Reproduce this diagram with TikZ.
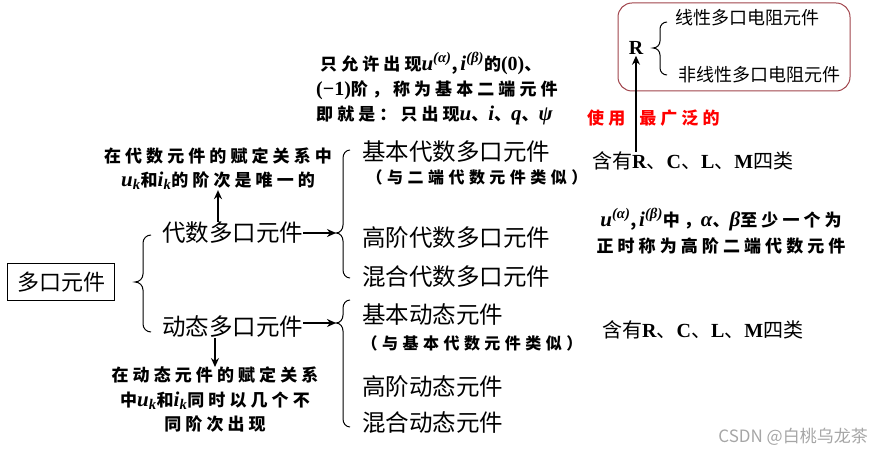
\documentclass[tikz,border=0pt]{standalone}
\usepackage{fontspec}
\setmainfont{Liberation Serif}
\newfontfamily\cjk{Noto Sans CJK SC}
\newfontfamily\cjkwide[LetterSpace=24]{Noto Sans CJK SC}
\newfontfamily\cjkwider[LetterSpace=28]{Noto Sans CJK SC}
\usepackage{xcolor}
\definecolor{FrameRed}{HTML}{A0434B}
\definecolor{NoteRed}{HTML}{FF0000}
\usepackage{tikz}
\usetikzlibrary{arrows.meta,positioning}
\newcommand{\Lt}[1]{{\rmfamily\bfseries #1}}
\newcommand{\bi}[1]{{\rmfamily\bfseries\itshape\fontsize{21}{24}\selectfont #1}}
\newcommand{\bu}[1]{{\rmfamily\bfseries\fontsize{20}{24}\selectfont #1}}

\begin{document}
\begin{tikzpicture}[x=1pt,y=1pt,
  item/.style={anchor=west,inner sep=0pt,font=\cjk\fontsize{23.5}{28}\selectfont},
  kind/.style={anchor=west,inner sep=0pt,font=\cjk\fontsize{20}{24}\selectfont},
  rtext/.style={anchor=west,inner sep=0pt,font=\cjk\fontsize{18}{22}\selectfont},
  note/.style={align=center,inner sep=0pt,font=\cjkwide\bfseries\fontsize{17}{25}\selectfont},
  sub/.style={inner sep=0pt,font=\cjkwider\bfseries\fontsize{16}{18}\selectfont},
  arr/.style={-{Stealth[length=9pt,width=8pt]},line width=2.5pt},
  brc/.style={line width=1pt}
]
  \useasboundingbox (0,0) rectangle (883,-454);

  % root and the two kinds
  \node[draw,line width=0.8pt,minimum width=107pt,minimum height=37pt,inner sep=0pt,
        font=\cjk\fontsize{22}{26}\selectfont] (multi) at (61,-282) {多口元件};
  \node[item] (alg) at (162,-233) {代数多口元件};
  \node[item] (dyn) at (162,-327) {动态多口元件};
  \draw[brc] (151,-235) to[out=180,in=90] (143,-243) -- (143,-274) to[out=-90,in=0] (135,-282)
             to[out=0,in=90] (143,-290) -- (143,-324) to[out=-90,in=180] (151,-332);

  % algebraic branch
  \coordinate (tipA) at (336,-233);
  \draw[brc] (350,-150) to[out=180,in=90] (343,-158) -- (343,-225) to[out=-90,in=0] (tipA)
             to[out=0,in=90] (343,-241) -- (343,-270) to[out=-90,in=180] (350,-278);
  \draw[arr] (alg.east) -- (tipA);
  \node[item] (algbas) at (362,-152) {基本代数多口元件};
  \node[sub] (algbasnote) at (477,-177) {（与二端代数元件类似）};
  \node[item] (alghi) at (362,-238) {高阶代数多口元件};
  \node[item] (algmix) at (362,-277) {混合代数多口元件};

  % dynamic branch
  \coordinate (tipD) at (336,-323);
  \draw[brc] (350,-300) to[out=180,in=90] (343,-308) -- (343,-315) to[out=-90,in=0] (tipD)
             to[out=0,in=90] (343,-331) -- (343,-419) to[out=-90,in=180] (350,-427);
  \draw[arr] (dyn.east |- tipD) -- (tipD);
  \node[item] (dynbas) at (362,-315) {基本动态元件};
  \node[sub] (dynbasnote) at (472,-343) {（与基本代数元件类似）};
  \node[item] (dynhi) at (362,-387) {高阶动态元件};
  \node[item] (dynmix) at (362,-423) {混合动态元件};

  % element types
  \node[kind] (kindA) at (592,-161) {含有\Lt{R}、\Lt{C}、\Lt{L}、\Lt{M}四类};
  \node[kind] (kindB) at (602,-330) {含有\Lt{R}、\Lt{C}、\Lt{L}、\Lt{M}四类};

  % resistor box
  \node[draw=FrameRed,rounded corners=14pt,line width=1pt,minimum width=232pt,minimum height=88pt,inner sep=0pt]
       (rbox) at (734,-47) {};
  \node[inner sep=1pt,font=\rmfamily\bfseries\fontsize{20}{24}\selectfont] (rlet) at (636,-48) {R};
  \draw[brc] (667,-22) to[out=180,in=90] (660,-29) -- (660,-41) to[out=-90,in=0] (653,-48)
             to[out=0,in=90] (660,-55) -- (660,-68) to[out=-90,in=180] (667,-75);
  \node[rtext] (lin) at (675,-18) {线性多口电阻元件};
  \node[rtext] (nonlin) at (678,-75) {非线性多口电阻元件};
  \draw[arr] (rlet |- kindA.north) -- (rlet.south);
  \node[anchor=west,inner sep=0pt,text=NoteRed,font=\cjkwide\bfseries\fontsize{17}{20}\selectfont]
       (widest) at (587,-118) {使用\hspace{14pt}最广泛的};

  % notes
  \node[note,align=left,anchor=north west] (topnote) at (316,-52)
       {\hspace{4pt}只允许出现\bi{u\textsuperscript{(α)}},\,\bi{i\textsuperscript{(β)}}的\bu{(0)}、\\
        \bu{(−1)}阶，称为基本二端元件\\
        即就是：只出现\bi{u}、\bi{i}、\bi{q}、\bi{ψ}};
  \node[note,font=\cjkwide\bfseries\fontsize{17}{24}\selectfont] (algnote) at (218,-169)
       {在代数元件的赋定关系中\\\bi{u\textsubscript{k}}和\bi{i\textsubscript{k}}的阶次是唯一的};
  \draw[arr] (alg.north -| algnote) -- (algnote.south);
  \node[note,font=\cjkwide\bfseries\fontsize{17}{26}\selectfont] (hinote) at (721,-231)
       {\bi{u\textsuperscript{(α)}},\,\bi{i\textsuperscript{(β)}}中，\bi{α}、\bi{β}至少一个为\\正时称为高阶二端代数元件};
  \node[note,font=\cjkwide\bfseries\fontsize{17}{24.5}\selectfont] (dynnote) at (215,-400)
       {在动态元件的赋定关系\\中\bi{u\textsubscript{k}}和\bi{i\textsubscript{k}}同时以几个不\\同阶次出现};
  \draw[arr] (dyn.south -| dynnote) -- (dynnote.north);

  \node[anchor=east,inner sep=0pt,text=black!35,font=\cjk\fontsize{17}{20}\selectfont] (mark) at (868,-437)
       {CSDN @白桃乌龙茶};
\end{tikzpicture}
\end{document}
